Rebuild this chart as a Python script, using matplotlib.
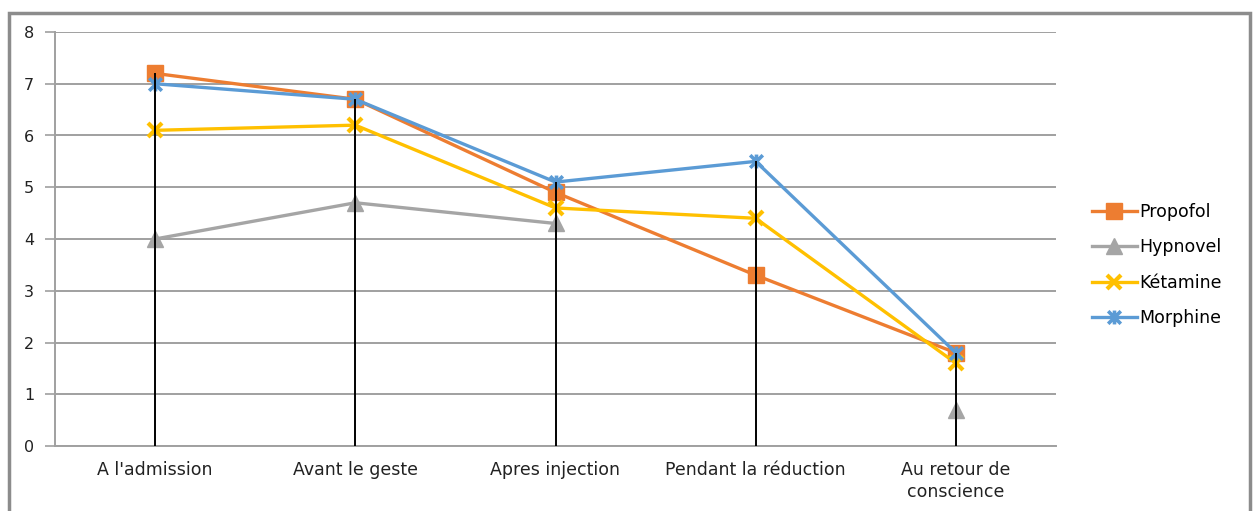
import numpy as np
import matplotlib.pyplot as plt
from matplotlib.patches import Rectangle
from matplotlib.path import Path

plt.rcParams['font.family'] = ['DejaVu Sans']

categories = ["A l'admission", "Avant le geste", "Apres injection",
              "Pendant la réduction", "Au retour de\nconscience"]
propofol = [7.2, 6.7, 4.9, 3.3, 1.8]
hypnovel = [4.0, 4.7, 4.3, np.nan, 0.7]
ketamine = [6.1, 6.2, 4.6, 4.4, 1.6]
morphine = [7.0, 6.7, 5.1, 5.5, 1.8]

# star marker: an x with a vertical bar through it
star = Path([(-1, -1), (1, 1), (-1, 1), (1, -1), (0, -1.1), (0, 1.1)],
            [Path.MOVETO, Path.LINETO] * 3)

fig = plt.figure(figsize=(12.53, 5.11), dpi=100)
ax = fig.add_axes([55 / 1253, 65 / 511, 1001 / 1253, 414 / 511])

x = np.arange(len(categories))
series = [
    ("Propofol", propofol, "#ED7D31", "s", 11, 1),
    ("Hypnovel", hypnovel, "#A5A5A5", "^", 11, 1),
    ("Kétamine", ketamine, "#FFC000", "x", 10, 3),
    ("Morphine", morphine, "#5B9BD5", star, 10, 2.6),
]
for name, vals, col, mk, ms, mew in series:
    ax.plot(x, vals, color=col, lw=2.4, marker=mk, markersize=ms,
            markeredgewidth=mew, markeredgecolor=col, label=name, zorder=3)

# drop lines from the top point of each category down to zero
tops = np.nanmax(np.array([propofol, hypnovel, ketamine, morphine]), axis=0)
ax.vlines(x, 0, tops, color="black", lw=1.4, zorder=4)

ax.set_xlim(-0.5, len(categories) - 0.5)
ax.set_ylim(0, 8)
ax.set_yticks(range(0, 9))
ax.set_xticks(x)
ax.set_xticklabels(categories, fontsize=12.5, color="#222222", linespacing=1.3)
ax.tick_params(axis="x", length=0, pad=11)
ax.tick_params(axis="y", length=7, width=1.2, color="#A0A0A0", pad=8,
               labelsize=11.5, labelcolor="#222222")
ax.grid(axis="y", color="#A0A0A0", lw=1.4)
ax.set_axisbelow(True)
for s in ["top", "right"]:
    ax.spines[s].set_visible(False)
ax.spines["left"].set_color("#A0A0A0")
ax.spines["left"].set_linewidth(1.4)
ax.spines["bottom"].set_color("#A0A0A0")
ax.spines["bottom"].set_linewidth(1.4)

fig.legend(loc="center left", bbox_to_anchor=(1083 / 1253, 1 - 265 / 511),
           frameon=False, fontsize=12.5, handlelength=2.6, handletextpad=0.15,
           labelspacing=1.0, borderpad=0)

# outer frame
fig.patches.append(Rectangle((9 / 1253, -0.05), 1241 / 1253, 1.05 - 13 / 511,
                             transform=fig.transFigure, fill=False,
                             edgecolor="#8C8C8C", lw=2.5))

fig.savefig("out.png", dpi=100)
